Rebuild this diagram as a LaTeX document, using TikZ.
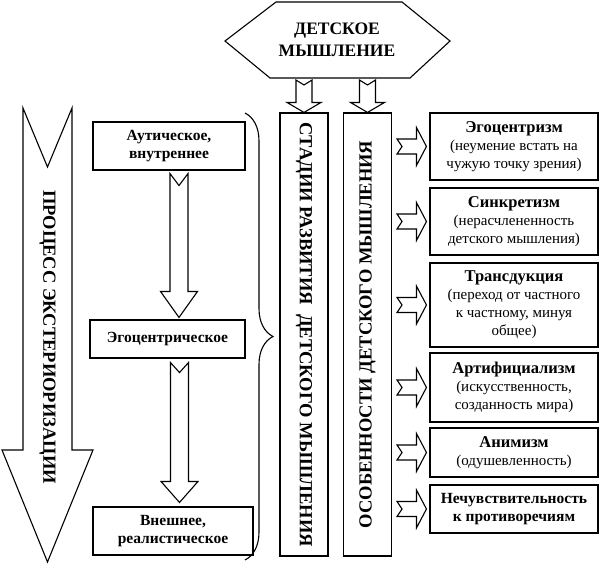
\documentclass[tikz,border=0pt]{standalone}
\usepackage{fontspec}
\setmainfont{Liberation Serif}
\usetikzlibrary{calc,decorations.pathreplacing}

\begin{document}
\begin{tikzpicture}[x=1pt,y=-1pt,
        frame/.style={draw,line width=1.1pt},
        title/.style={font=\fontsize{17.5}{22}\selectfont\bfseries,align=center},
        stage/.style={frame,font=\fontsize{15.5}{17.5}\selectfont\bfseries,align=center,inner sep=0pt},
        column/.style={frame,minimum width=48pt,minimum height=443pt,inner sep=0pt,font=\fontsize{18.5}{20}\selectfont\bfseries},
        trait/.style={frame,minimum width=168pt,align=center,inner sep=0pt,font=\fontsize{15}{18}\selectfont},
        head/.style={font=\fontsize{16.5}{18}\selectfont\bfseries},
        dnarrow/.style n args={4}{line width=1.1pt,to path={let \p1=(\tikztostart),\p2=(\tikztotarget) in
            (\x1-#1pt,\y1) -- (\x1,\y1-#4pt) -- (\x1+#1pt,\y1) -- (\x1+#1pt,\y2+#3pt) -- (\x1+#2pt,\y2+#3pt)
            -- (\x1,\y2) -- (\x1-#2pt,\y2+#3pt) -- (\x1-#1pt,\y2+#3pt) -- cycle}},
        rtarrow/.style n args={4}{line width=1.1pt,to path={let \p1=(\tikztostart),\p2=(\tikztotarget) in
            (\x1,\y1+#1pt) -- (\x1+#4pt,\y1) -- (\x1,\y1-#1pt) -- (\x2-#3pt,\y1-#1pt) -- (\x2-#3pt,\y1-#2pt)
            -- (\x2,\y1) -- (\x2-#3pt,\y1+#2pt) -- (\x2-#3pt,\y1+#1pt) -- cycle}},
      ]
      \useasboundingbox (0,0) rectangle (610,565);
%
      \draw[frame] (225,41) -- (276,2) -- (402,2) -- (450,41) -- (410,78) -- (270,78) -- cycle;
      \node[title] at (337,40) (Think) {ДЕТСКОЕ\\МЫШЛЕНИЕ};
%
      \coordinate (ExtTop) at (47.5,108);
      \coordinate (ExtTip) at (47.5,562);
      \draw[dnarrow={24.5}{45.5}{112}{59}] (ExtTop) to (ExtTip);
      \node[font=\fontsize{18.5}{20}\selectfont\bfseries] at (47.5,337) (Exter) {\rotatebox{-90}{ПРОЦЕСС ЭКСТЕРИОРИЗАЦИИ}};
%
      \node[stage,minimum width=152pt,minimum height=48pt] at (169,146) (Aut) {Аутическое,\\внутреннее};
      \node[stage,minimum width=155pt,minimum height=38pt] at (167.5,339) (Ego) {Эгоцентрическое};
      \node[stage,minimum width=160pt,minimum height=48pt] at (173,531) (Real) {Внешнее,\\реалистическое};
%
      \draw[dnarrow={9}{18.5}{26}{12}] ([xshift=10pt,yshift=-3pt]Aut.south) to ([xshift=12pt,yshift=2pt]Ego.north);
      \draw[dnarrow={9}{18.5}{21}{10}] ([xshift=12pt,yshift=-4pt]Ego.south) to ([xshift=6pt,yshift=4pt]Real.north);
      \draw[decorate,decoration={brace,amplitude=28pt},line width=1.1pt] (245,113) -- (245,560);
%
      \node[column] at (304,334.5) (Stages) {\rotatebox{-90}{СТАДИИ РАЗВИТИЯ\ \ ДЕТСКОГО МЫШЛЕНИЯ}};
      \node[column] at (367.5,334.5) (Feat) {\rotatebox{90}{ОСОБЕННОСТИ ДЕТСКОГО МЫШЛЕНИЯ}};
      \draw[dnarrow={8}{17}{10}{5}] (Stages.north |- 0,80) to (Stages.north);
      \draw[dnarrow={8}{17}{10}{5}] (Feat.north |- 0,80) to (Feat.north);
%
      \node[trait,minimum height=67pt] at (514,146.5) (Egoc) {{\bfseries\fontsize{16.5}{18}\selectfont Эгоцентризм}\\(неумение встать на\\чужую точку зрения)};
      \node[trait,minimum height=67pt] at (514,221.5) (Sync) {{\bfseries\fontsize{16.5}{18}\selectfont Синкретизм}\\(нерасчлененность\\детского мышления)};
      \node[trait,minimum height=84pt] at (514,305) (Trans) {{\bfseries\fontsize{16.5}{18}\selectfont Трансдукция}\\(переход от частного\\к частному, минуя\\общее)};
      \node[trait,minimum height=69pt] at (514,387.5) (Artif) {{\bfseries\fontsize{16.5}{18}\selectfont Артифициализм}\\(искусственность,\\созданность мира)};
      \node[trait,minimum height=49pt] at (514,452.5) (Anim) {{\bfseries\fontsize{16.5}{18}\selectfont Анимизм}\\(одушевленность)};
      \node[trait,minimum height=48pt,font=\fontsize{15.5}{18}\selectfont\bfseries] at (514,509) (Insens) {Нечувствительность\\к противоречиям};
%
      \draw[rtarrow={7.5}{19}{10}{5}] ([xshift=5pt]Feat.east |- Egoc.west) to ([xshift=-3pt]Egoc.west);
      \draw[rtarrow={7.5}{19}{10}{5}] ([xshift=5pt]Feat.east |- Sync.west) to ([xshift=-3pt]Sync.west);
      \draw[rtarrow={7.5}{19}{10}{5}] ([xshift=5pt]Feat.east |- Trans.west) to ([xshift=-3pt]Trans.west);
      \draw[rtarrow={7.5}{19}{10}{5}] ([xshift=5pt]Feat.east |- Artif.west) to ([xshift=-3pt]Artif.west);
      \draw[rtarrow={7.5}{19}{10}{5}] ([xshift=5pt]Feat.east |- Anim.west) to ([xshift=-3pt]Anim.west);
      \draw[rtarrow={7.5}{19}{10}{5}] ([xshift=5pt]Feat.east |- Insens.west) to ([xshift=-3pt]Insens.west);
    \end{tikzpicture}
\end{document}
